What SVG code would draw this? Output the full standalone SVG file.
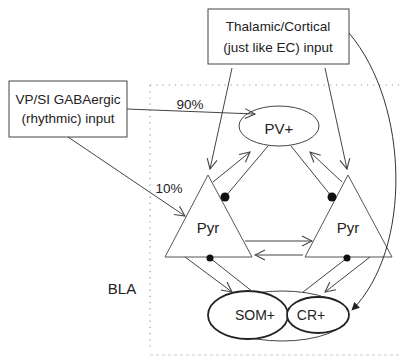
<svg xmlns="http://www.w3.org/2000/svg" width="401" height="356" viewBox="0 0 401 356">
<defs>
<style>
.t{font-family:"Liberation Sans",Arial,sans-serif;fill:#222;text-anchor:middle;dominant-baseline:central}
.s13{font-size:13.5px}
.s14{font-size:14px}
.s15{font-size:15px}
.box{fill:#fff;stroke:#444;stroke-width:1}
.ln{fill:none;stroke:#444;stroke-width:1}
.ar{fill:none;stroke:#444;stroke-width:1;marker-end:url(#open)}
.dot{fill:#111}
.tri{fill:#fff;stroke:#555;stroke-width:1}
</style>
<marker id="open" viewBox="0 0 12 12" refX="11" refY="6" markerWidth="12" markerHeight="12" markerUnits="userSpaceOnUse" orient="auto">
<path d="M1,1 L11,6 L1,11" fill="none" stroke="#444" stroke-width="1.1"/>
</marker>
<marker id="sm" viewBox="0 0 10 10" refX="9" refY="5" markerWidth="8" markerHeight="8" markerUnits="userSpaceOnUse" orient="auto">
<path d="M0,0 L10,5 L0,10 Z" fill="#222"/>
</marker>
</defs>
<g id="region">
<path d="M150,85 H401" fill="none" stroke="#999" stroke-width="1.2" stroke-dasharray="1.2,5"/>
<path d="M150,85 V350" fill="none" stroke="#999" stroke-width="1.2" stroke-dasharray="1.2,5"/>
<path d="M150,355 H401" fill="none" stroke="#ccc" stroke-width="1" stroke-dasharray="3,3"/>
<text class="t s15" x="122" y="288">BLA</text>
</g>
<g id="thalamic">
<rect class="box" x="208" y="9" width="141" height="55"/>
<text class="t s13" x="278" y="26">Thalamic/Cortical</text>
<text class="t s13" x="278" y="47">(just like EC) input</text>
</g>
<g id="vpsi">
<rect class="box" x="9" y="81" width="118" height="56"/>
<text class="t s13" x="68" y="99">VP/SI GABAergic</text>
<text class="t s13" x="68" y="118">(rhythmic) input</text>
</g>
<g id="pv">
<ellipse class="box" cx="279" cy="126" rx="40" ry="20"/>
<text class="t s15" x="279" y="128">PV+</text>
</g>
<g id="pyr-left">
<polygon class="tri" points="208,175 165,257 252,257"/>
<text class="t s15" x="208" y="227">Pyr</text>
</g>
<g id="pyr-right">
<polygon class="tri" points="348,175 305,257 392,257"/>
<text class="t s15" x="348" y="227">Pyr</text>
</g>
<g id="interneurons">
<ellipse cx="282" cy="316" rx="65" ry="25" fill="none" stroke="#444" stroke-width="1"/>
<ellipse cx="248" cy="315" rx="40" ry="24" fill="#fff" stroke="#222" stroke-width="1.8"/>
<ellipse cx="318" cy="315" rx="31" ry="18" fill="#fff" stroke="#222" stroke-width="1.8"/>
<text class="t s14" x="255" y="315">SOM+</text>
<text class="t s14" x="311" y="315">CR+</text>
</g>
<g id="connectors">
<path class="ar" d="M127,109 L255,114"/>
<text class="t s13" x="190" y="104">90%</text>
<path class="ar" d="M68,137 L185,216"/>
<text class="t s13" x="169" y="188">10%</text>
<path class="ar" d="M232,68 L210,169"/>
<path class="ar" d="M325,68 L347,169"/>
<path d="M349,33 C410,105 412,250 352,310" fill="none" stroke="#333" stroke-width="1" marker-end="url(#sm)"/>
<path class="ar" d="M213,182 L250,152"/>
<path class="ln" d="M268,146 L225,197"/>
<circle class="dot" cx="225" cy="197" r="4.5"/>
<path class="ar" d="M342,182 L310,152"/>
<path class="ln" d="M291,146 L332,197"/>
<circle class="dot" cx="332" cy="197" r="4.5"/>
<path class="ar" d="M245,241 L312,241"/>
<path class="ar" d="M303,255 L255,255"/>
<path class="ar" d="M185,257 L232,292"/>
<path class="ln" d="M210,258 L253,292"/>
<circle class="dot" cx="210" cy="258" r="3.5"/>
<path class="ar" d="M370,257 L325,292"/>
<path class="ln" d="M347,258 L303,292"/>
<circle class="dot" cx="347" cy="258" r="3.5"/>
</g>
</svg>
